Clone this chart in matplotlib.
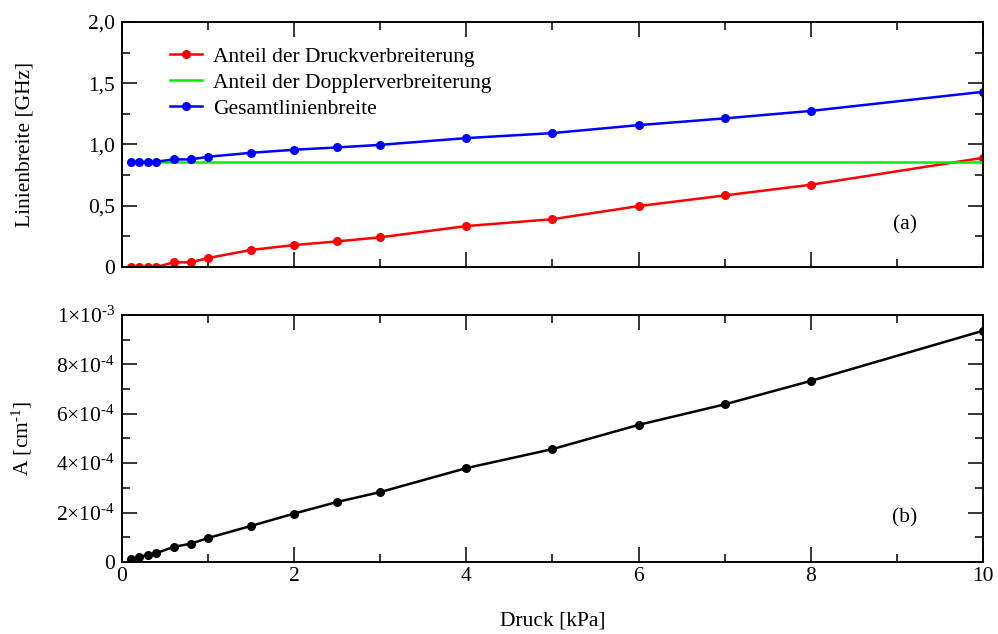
import matplotlib
matplotlib.use("Agg")
import matplotlib.pyplot as plt
from matplotlib.ticker import FixedLocator, MultipleLocator, FuncFormatter

plt.rcParams["font.family"] = ["Liberation Serif", "DejaVu Serif"]
plt.rcParams["mathtext.fontset"] = "custom"
plt.rcParams["mathtext.rm"] = "Liberation Serif"
plt.rcParams["mathtext.it"] = "Liberation Serif:italic"

# ---- data ----
druck = [0.1, 0.2, 0.3, 0.4, 0.6, 0.8, 1.0, 1.5, 2.0, 2.5, 3.0, 4.0, 5.0, 6.0, 7.0, 8.0, 10.0]
druckverbreiterung = [0.0, 0.0, 0.0, 0.0, 0.038, 0.038, 0.073, 0.139, 0.179, 0.209, 0.242,
                      0.334, 0.39, 0.497, 0.584, 0.671, 0.891]
dopplerverbreiterung = [0.86] * len(druck)
gesamtbreite = [0.858, 0.858, 0.858, 0.86, 0.878, 0.878, 0.90, 0.932, 0.957, 0.976, 0.997,
                1.052, 1.093, 1.158, 1.213, 1.274, 1.43]
absorption = [1.1e-5, 2.0e-5, 2.8e-5, 3.6e-5, 6.1e-5, 7.4e-5, 9.7e-5, 1.46e-4, 1.96e-4,
              2.43e-4, 2.83e-4, 3.8e-4, 4.57e-4, 5.55e-4, 6.38e-4, 7.33e-4, 9.36e-4]

y_ticks_top = [0, 0.5, 1.0, 1.5, 2.0]
y_ticks_bot = [0, 2e-4, 4e-4, 6e-4, 8e-4, 1e-3]

FS = 15.5

fig = plt.figure(figsize=(9.98, 6.34), dpi=100)
ax1 = fig.add_axes([0.1222, 0.5789, 0.8627, 0.3864])
ax2 = fig.add_axes([0.1222, 0.1136, 0.8627, 0.3896])


def _style(ax):
    ax.tick_params(which="both", direction="in", top=True, right=True, labelsize=FS)
    ax.tick_params(which="major", length=10.5, width=1.1)
    ax.tick_params(which="minor", length=5.5, width=1.1)
    ax.tick_params(axis="y", which="major", pad=5)
    for s in ax.spines.values():
        s.set_linewidth(1.4)
    ax.set_xlim(0, 10)
    ax.xaxis.set_major_locator(MultipleLocator(2))
    ax.xaxis.set_minor_locator(MultipleLocator(1))


# ---- (a) line widths ----
ax1.plot(druck, druckverbreiterung, "o-", color="#ff0000", lw=1.8, ms=5.5,
         label="Anteil der Druckverbreiterung")
ax1.plot(druck, dopplerverbreiterung, "-", color="#00ee00", lw=1.8,
         label="Anteil der Dopplerverbreiterung")
ax1.plot(druck, gesamtbreite, "o-", color="#0000ff", lw=1.8, ms=5.5,
         label="Gesamtlinienbreite")
_style(ax1)
ax1.set_ylim(0, 2.0)
ax1.yaxis.set_major_locator(FixedLocator(y_ticks_top))
ax1.yaxis.set_minor_locator(MultipleLocator(0.25))
ax1.yaxis.set_major_formatter(FuncFormatter(
    lambda v, p: "0" if v == 0 else f"{v:.1f}".replace(".", ",")))
ax1.tick_params(labelbottom=False)
ax1.set_ylabel("Linienbreite [GHz]", fontsize=FS)
ax1.yaxis.set_label_coords(-0.102, 0.5)
ax1.legend(loc="upper left", bbox_to_anchor=(0.0555, 0.9), frameon=False, fontsize=FS,
           handlelength=1.5, handletextpad=0.5, labelspacing=0.28, borderpad=0,
           borderaxespad=0)
ax1.text(0.909, 0.17, "(a)", transform=ax1.transAxes, fontsize=FS, ha="center", va="center")

# ---- (b) absorption ----
ax2.plot(druck, absorption, "o-", color="black", lw=1.8, ms=5.5)
_style(ax2)
ax2.set_ylim(0, 1e-3)
ax2.yaxis.set_major_locator(FixedLocator(y_ticks_bot))
ax2.yaxis.set_minor_locator(MultipleLocator(1e-4))


def _sci(v, p):
    if abs(v) < 1e-12:
        return "0"
    exp = 0
    m = v
    while m < 1 - 1e-9:
        m *= 10
        exp -= 1
    return "$%d{\\times}10^{\u2010%d}$" % (round(m), -exp)


ax2.yaxis.set_major_formatter(FuncFormatter(_sci))
ax2.set_ylabel("A [cm$^{\u20101}$]", fontsize=FS)
ax2.yaxis.set_label_coords(-0.102, 0.5)
ax2.set_xlabel("Druck [kPa]", fontsize=FS, va="top")
ax2.xaxis.set_label_coords(0.5, -0.2)
ax2.text(0.909, 0.178, "(b)", transform=ax2.transAxes, fontsize=FS, ha="center", va="center")

fig.savefig("out.png", dpi=100)
